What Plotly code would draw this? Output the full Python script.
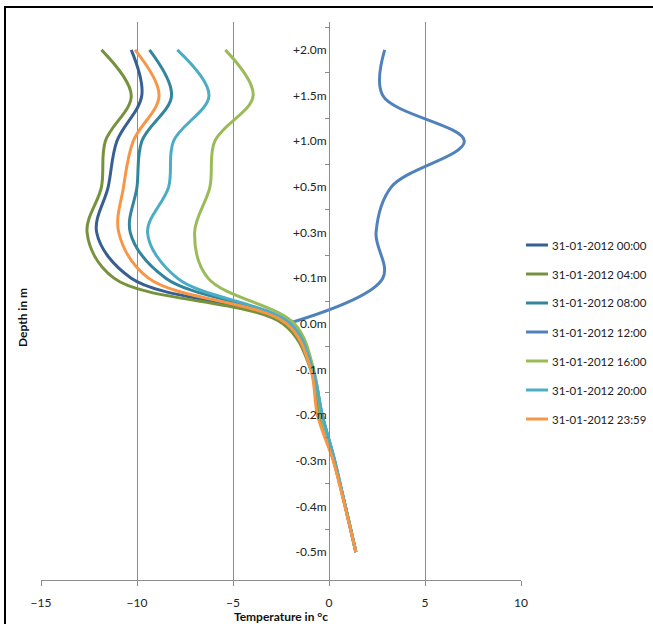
import plotly.graph_objects as go

depths = ["+2.0m", "+1.5m", "+1.0m", "+0.5m", "+0.3m", "+0.1m",
          "0.0m", "-0.1m", "-0.2m", "-0.3m", "-0.4m", "-0.5m"]

series_names = ["31-01-2012 00:00", "31-01-2012 04:00", "31-01-2012 08:00",
                "31-01-2012 12:00", "31-01-2012 16:00", "31-01-2012 20:00",
                "31-01-2012 23:59"]

t_0000 = [-10.3, -9.75, -11.05, -11.5, -12.1, -10.3, -2.3, -0.9, -0.5, 0.25, 0.85, 1.4]
t_0400 = [-11.85, -10.3, -11.65, -11.85, -12.6, -11.2, -2.4, -0.95, -0.5, 0.25, 0.85, 1.4]
t_0800 = [-9.35, -8.2, -9.75, -10.0, -10.35, -8.5, -2.1, -0.85, -0.35, 0.3, 0.85, 1.4]
t_1200 = [2.9, 2.8, 7.05, 3.25, 2.45, 2.8, -2.2, None, None, None, None, None]
t_1600 = [-5.4, -3.95, -5.95, -6.2, -7.0, -6.3, -1.8, -0.8, -0.4, 0.25, 0.85, 1.4]
t_2000 = [-7.9, -6.25, -8.1, -8.35, -9.45, -7.9, -2.0, -0.85, -0.35, 0.3, 0.85, 1.4]
t_2359 = [-10.1, -8.85, -10.2, -10.7, -10.95, -9.4, -2.2, -0.95, -0.6, 0.22, 0.83, 1.4]

x_ticks = [-15, -10, -5, 0, 5, 10]

all_series = [t_0000, t_0400, t_0800, t_1200, t_1600, t_2000, t_2359]
colors = ["#376092", "#76923C", "#31859C", "#4F81BD", "#9BBB59", "#4BACC6", "#F79646"]

FONT = "Lato"
W, H = 653, 624
L, R, T, B = 41, 132, 22, 44
pw = W - L - R
ph = H - T - B

def px_x(p):
    return (p - L) / pw

def px_y(p):
    return (H - B - p) / ph

fig = go.Figure()
for i in range(len(all_series)):
    fig.add_trace(go.Scatter(
        x=all_series[i], y=depths, name=series_names[i], mode="lines",
        line=dict(color=colors[i], width=3, shape="spline", smoothing=1.0),
        showlegend=False, connectgaps=False,
    ))

# manual legend (Excel-like)
legend_top, legend_step = 245, 29
annotations = []
shapes = []
for k, (name, col) in enumerate(zip(series_names, colors)):
    yc = legend_top + k * legend_step
    shapes.append(dict(type="line", xref="paper", yref="paper",
                       x0=px_x(526), x1=px_x(548), y0=px_y(yc), y1=px_y(yc),
                       line=dict(color=col, width=3)))
    annotations.append(dict(text=name, xref="paper", yref="paper",
                            x=px_x(550), y=px_y(yc), xanchor="left", yanchor="middle",
                            showarrow=False,
                            font=dict(family=FONT, size=11.5, color="#222")))

annotations.append(dict(text="<b>Depth in m</b>", textangle=-90, xref="paper", yref="paper",
                        x=px_x(22), y=px_y(318), xanchor="center", yanchor="middle",
                        showarrow=False, font=dict(family=FONT, size=12, color="#111")))

shapes.append(dict(type="rect", xref="paper", yref="paper",
                   x0=px_x(5), x1=1.5, y0=-0.2, y1=px_y(7),
                   line=dict(color="black", width=2), layer="above"))

fig.update_layout(
    width=W, height=H,
    margin=dict(l=L, r=R, t=T, b=B, pad=0, autoexpand=False),
    paper_bgcolor="white", plot_bgcolor="white",
    font=dict(family=FONT, size=12, color="#222"),
    showlegend=False,
    xaxis=dict(range=[-15, 10], tickvals=x_ticks, showgrid=True,
               gridcolor="#8c8c8c", gridwidth=1, zeroline=False,
               showline=True, linecolor="#8c8c8c", linewidth=1,
               ticks="outside", ticklen=5, tickcolor="#8c8c8c",
               ticklabelstandoff=7,
               tickfont=dict(family=FONT, size=12, color="#222"),
               title=dict(text="Temperature in °c", standoff=2,
                          font=dict(family=FONT, size=12, color="#111", weight="bold"))),
    yaxis=dict(type="category", categoryorder="array", categoryarray=depths,
               autorange="reversed", anchor="free", position=(0 + 15) / 25,
               showgrid=False, zeroline=False, showline=True,
               linecolor="#8c8c8c", linewidth=1, ticks="outside", ticklen=4,
               tickcolor="#8c8c8c", tickson="boundaries",
               tickfont=dict(family=FONT, size=12, color="#222")),
    annotations=annotations,
    shapes=shapes,
)

fig.write_html("out.html", config={"displayModeBar": False},
               post_script="document.body.style.margin='0';document.body.style.overflow='hidden';")
